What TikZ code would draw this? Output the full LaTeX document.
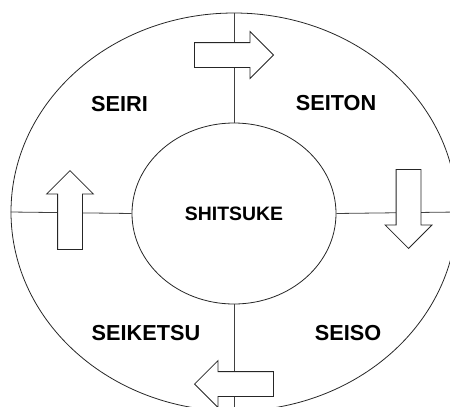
\documentclass[tikz,border=0pt]{standalone}
\usepackage{fontspec}
\setmainfont{Liberation Sans}
\usetikzlibrary{shapes.geometric,shapes.arrows}

\tikzset{
  ring/.style={draw=black!85, ellipse, inner sep=0pt, line width=0.8pt},
  spoke/.style={draw=black!75, line width=0.8pt},
  turn/.style={draw=black!85, fill=white, single arrow, single arrow head extend=11pt,
    inner xsep=0pt, inner ysep=12pt, minimum height=79pt, anchor=tip, line width=0.8pt},
  stage/.style={font=\bfseries\fontsize{21.7}{24}\selectfont}
}

\begin{document}
\begin{tikzpicture}[x=1pt,y=-1pt]
\useasboundingbox (0,0) rectangle (450,407);
\clip (0,0) rectangle (450,407);

\node[ring, minimum width=446pt, minimum height=398pt] (outer) at (234,212) {};
\node[ring, minimum width=204pt, minimum height=181pt] (inner) at (234,213.5) {};

% spokes between the two rings
\foreach \side in {north,south,east,west}
	\draw[spoke] (outer.\side) -- (inner.\side);

% arrows on the spokes
\node[turn] (toseiton) at (274,55) {};
\node[turn, rotate=-90] (toseiso) at (408.5,249) {};
\node[turn, rotate=180] (toseiketsu) at (194,384) {};
\node[turn, rotate=90] (toseiri) at (70,170) {};

\node[stage] (seiri) at (119.5,104.5) {SEIRI};
\node[stage] (seiton) at (336,103) {SEITON};
\node[stage] (seiketsu) at (146,333) {SEIKETSU};
\node[stage] (seiso) at (348,333) {SEISO};
\node[font=\bfseries\fontsize{19.4}{22}\selectfont] (shitsuke) at (inner) {SHITSUKE};
\end{tikzpicture}
\end{document}
